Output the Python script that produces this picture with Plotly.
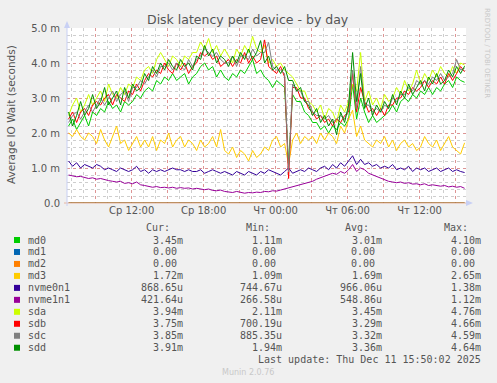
import numpy as np
import pandas as pd
import plotly.graph_objects as go

# ---------------- data (values in milliseconds) ----------------
times = pd.date_range("2025-12-10 06:45", periods=100, freq="20min")

md0 = [2.2, 2.4, 2.1, 2.3, 2.5, 2.2, 2.6, 2.5, 2.7, 2.6, 2.9, 2.7, 2.8, 2.6, 2.9, 2.8,
       2.9, 3.1, 3.0, 3.2, 3.3, 3.2, 3.5, 3.4, 3.6, 3.5, 3.7, 3.5, 3.6, 3.7, 3.4, 3.6,
       3.7, 3.9, 4.0, 3.8, 3.9, 3.6, 3.8, 3.6, 3.5, 3.7, 3.6, 3.8, 3.7, 3.9, 4.1, 3.7,
       3.8, 3.6, 3.5, 3.3, 3.5, 3.4, 3.3, 1.11, 3.1, 2.9, 2.9, 2.6, 2.5, 2.3, 2.3, 2.1,
       2.2, 2.0, 2.2, 2.1, 2.3, 2.2, 2.4, 3.4, 2.4, 3.0, 2.6, 2.3, 2.5, 2.3, 2.4, 2.5,
       2.6, 2.8, 2.6, 2.9, 3.0, 2.9, 3.1, 3.0, 3.2, 3.1, 3.3, 3.1, 3.3, 3.2, 3.4, 3.5,
       3.3, 3.6, 3.5, 3.45]
md1 = [0.0] * 100
md2 = [0.0] * 100
md3 = [2.0, 1.9, 2.1, 1.9, 1.8, 2.0, 1.9, 1.7, 2.1, 1.8, 1.6, 1.9, 2.2, 1.7, 1.8, 1.5,
       1.7, 1.9, 1.6, 1.8, 1.6, 1.9, 1.5, 1.8, 1.7, 2.0, 1.6, 1.8, 1.9, 1.6, 1.8, 1.7,
       1.5, 1.8, 1.6, 1.7, 1.9, 1.6, 2.1, 1.5, 1.4, 1.6, 1.3, 1.5, 1.4, 1.2, 1.5, 1.3,
       1.4, 1.6, 1.5, 1.8, 1.9, 1.6, 1.7, 1.1, 1.8, 2.0, 1.7, 1.9, 1.8, 1.9, 1.7, 2.0,
       1.8, 2.0, 1.9, 1.7, 2.2, 2.0, 2.4, 2.65, 1.9, 2.2, 1.8, 1.7, 1.6, 1.8, 1.7, 1.9,
       1.6, 1.8, 1.5, 1.7, 1.8, 1.6, 1.7, 1.5, 1.6, 1.9, 1.7, 1.6, 1.8, 1.5, 1.7, 1.9,
       1.6, 1.5, 1.4, 1.72]
nvme0n1 = [1.2, 1.05, 1.15, 1.0, 1.1, 1.05, 1.0, 1.1, 1.05, 0.95, 1.0, 0.95, 0.9, 1.0, 0.95, 0.9,
           0.95, 1.05, 0.9, 0.95, 0.85, 0.95, 0.9, 0.95, 0.9, 0.95, 1.0, 0.95, 0.95, 0.9, 0.95, 0.9,
           0.9, 0.95, 0.85, 0.9, 0.95, 0.9, 0.85, 0.9, 0.85, 0.8, 0.9, 0.85, 0.8, 0.9, 0.85, 0.8,
           0.9, 0.85, 0.95, 0.9, 0.85, 0.8, 0.9, 1.0, 0.85, 0.9, 0.95, 0.9, 1.0, 0.95, 0.9, 1.0,
           1.05, 0.95, 1.1, 1.0, 1.15, 1.05, 1.2, 1.35, 1.1, 1.25, 1.1, 1.15, 1.05, 1.1, 1.0, 1.05,
           1.0, 1.1, 0.95, 1.0, 0.95, 1.05, 0.9, 1.0, 0.95, 1.0, 0.9, 0.95, 1.0, 0.9, 0.95, 1.0,
           0.9, 0.95, 0.9, 0.87]
nvme1n1 = [0.8, 0.78, 0.75, 0.76, 0.72, 0.7, 0.72, 0.68, 0.7, 0.66, 0.64, 0.62, 0.6, 0.62, 0.56, 0.58,
           0.55, 0.6, 0.52, 0.5, 0.48, 0.45, 0.47, 0.44, 0.45, 0.43, 0.45, 0.42, 0.44, 0.42, 0.43, 0.4,
           0.42, 0.4, 0.38, 0.4, 0.36, 0.35, 0.37, 0.33, 0.32, 0.3, 0.33, 0.3, 0.28, 0.3, 0.29, 0.31,
           0.3, 0.33, 0.32, 0.35, 0.34, 0.37, 0.4, 0.45, 0.48, 0.5, 0.52, 0.56, 0.6, 0.62, 0.68, 0.72,
           0.78, 0.8, 0.85, 0.82, 0.9, 0.85, 0.95, 1.1, 0.9, 1.0, 0.95, 0.85, 0.8, 0.75, 0.7, 0.65,
           0.62, 0.6, 0.58, 0.6, 0.56, 0.58, 0.54, 0.55, 0.52, 0.55, 0.5, 0.52, 0.5, 0.48, 0.5, 0.46,
           0.48, 0.45, 0.47, 0.42]
sda = [2.5, 2.8, 3.0, 2.6, 2.8, 3.1, 2.8, 3.0, 3.2, 2.9, 3.4, 3.1, 3.0, 3.3, 3.1, 3.4,
       3.3, 3.6, 3.5, 3.8, 3.9, 3.7, 4.1, 4.3, 4.1, 3.9, 4.2, 4.1, 3.9, 4.2, 4.1, 4.3,
       4.3, 4.6, 4.4, 4.7, 4.3, 4.5, 4.2, 4.4, 4.2, 4.0, 4.4, 4.2, 4.5, 4.3, 4.76, 4.4,
       4.3, 4.5, 4.0, 4.1, 3.9, 4.0, 3.8, 3.7, 3.6, 3.4, 3.2, 3.2, 2.9, 2.8, 2.6, 2.8,
       2.4, 2.7, 2.6, 2.3, 2.8, 2.6, 2.9, 3.4, 3.2, 4.3, 2.9, 3.2, 2.8, 3.0, 2.7, 3.1,
       2.9, 3.0, 3.3, 3.1, 3.5, 3.2, 3.4, 3.8, 3.4, 3.7, 3.5, 3.8, 3.6, 3.9, 3.7, 3.6,
       3.9, 3.7, 4.0, 3.94]
sdb = [2.4, 2.6, 2.3, 2.6, 2.7, 2.5, 2.8, 2.9, 2.8, 3.0, 3.1, 2.8, 3.1, 3.0, 2.9, 3.2,
       3.1, 3.4, 3.2, 3.5, 3.7, 3.6, 3.8, 3.7, 4.0, 3.8, 3.7, 4.0, 3.8, 4.0, 3.7, 3.9,
       4.0, 4.3, 4.2, 4.3, 4.1, 4.2, 3.9, 4.0, 4.1, 3.9, 4.1, 4.0, 4.3, 4.0, 4.2, 4.0,
       4.1, 4.66, 3.9, 3.8, 3.7, 3.9, 3.6, 0.70, 3.3, 3.3, 3.0, 3.0, 2.7, 2.6, 2.4, 2.5,
       2.3, 2.4, 2.2, 2.4, 2.3, 2.5, 2.6, 3.7, 2.6, 3.3, 2.9, 2.6, 2.7, 2.5, 2.7, 2.5,
       2.8, 2.8, 3.0, 3.0, 3.2, 3.1, 3.3, 3.2, 3.3, 3.5, 3.3, 3.5, 3.4, 3.6, 3.4, 3.7,
       3.5, 3.7, 3.9, 3.75]
sdc = [2.3, 2.5, 2.6, 2.4, 2.6, 2.8, 2.6, 2.8, 3.0, 2.8, 3.0, 3.2, 2.9, 3.1, 3.2, 2.9,
       3.3, 3.3, 3.5, 3.4, 3.6, 3.8, 3.6, 3.9, 3.9, 4.0, 3.8, 4.0, 3.9, 3.8, 4.1, 3.9,
       4.1, 4.2, 4.4, 4.3, 4.2, 4.3, 4.1, 4.0, 4.0, 4.2, 3.9, 4.2, 4.2, 4.1, 4.4, 4.2,
       4.3, 4.3, 4.59, 3.9, 3.8, 3.8, 3.7, 0.89, 3.4, 3.2, 3.2, 2.9, 2.9, 2.6, 2.5, 2.5,
       2.4, 2.5, 2.3, 2.4, 2.5, 2.4, 2.7, 3.8, 2.7, 3.9, 2.8, 2.8, 2.6, 2.7, 2.6, 2.8,
       2.7, 3.0, 2.9, 3.1, 3.1, 3.3, 3.2, 3.5, 3.4, 3.5, 3.4, 3.6, 3.5, 3.7, 3.5, 3.6,
       3.7, 4.1, 3.8, 3.85]
sdd = [2.6, 2.2, 2.5, 2.9, 2.5, 2.7, 3.1, 2.7, 2.9, 3.3, 2.8, 3.0, 3.2, 2.8, 3.3, 3.0,
       3.4, 3.2, 3.3, 3.7, 3.5, 3.9, 3.7, 4.0, 3.8, 4.1, 3.9, 3.8, 4.1, 3.9, 4.0, 3.8,
       4.2, 4.1, 4.5, 4.2, 4.4, 4.0, 4.2, 4.1, 3.9, 4.2, 4.0, 4.3, 4.1, 4.4, 4.1, 4.3,
       4.64, 4.0, 4.2, 3.8, 3.9, 3.7, 3.9, 3.5, 3.5, 3.2, 3.3, 2.9, 2.8, 2.5, 2.7, 2.3,
       2.5, 2.2, 2.4, 1.95, 2.6, 2.3, 2.8, 4.3, 2.9, 3.7, 2.7, 3.0, 2.5, 2.8, 2.6, 2.9,
       2.7, 3.1, 2.8, 3.2, 3.0, 3.4, 3.1, 3.3, 3.5, 3.2, 3.6, 3.4, 3.7, 3.4, 3.5, 3.8,
       3.6, 3.9, 3.7, 3.91]

names = ["md0", "md1", "md2", "md3", "nvme0n1", "nvme1n1", "sda", "sdb", "sdc", "sdd"]
colors = ["#00CC00", "#0066B3", "#FF8000", "#FFCC00", "#330099", "#990099",
          "#CCFF00", "#FF0000", "#808080", "#008F00"]
cur_vals = ["3.45m", "0.00", "0.00", "1.72m", "868.65u", "421.64u", "3.94m", "3.75m", "3.85m", "3.91m"]
min_vals = ["1.11m", "0.00", "0.00", "1.09m", "744.67u", "266.58u", "2.11m", "700.19u", "885.35u", "1.94m"]
avg_vals = ["3.01m", "0.00", "0.00", "1.69m", "966.06u", "548.86u", "3.45m", "3.29m", "3.32m", "3.36m"]
max_vals = ["4.10m", "0.00", "0.00", "2.65m", "1.38m", "1.12m", "4.76m", "4.66m", "4.59m", "4.64m"]

x_tick_times = pd.date_range("2025-12-10 09:00", "2025-12-11 15:00", freq="3h")
x_tick_labels = ["", "Ср 12:00", "", "Ср 18:00", "", "Чт 00:00", "", "Чт 06:00", "", "Чт 12:00", ""]
y_tick_vals = [0, 1, 2, 3, 4, 5]
y_tick_labels = ["0.0", "1.0 m", "2.0 m", "3.0 m", "4.0 m", "5.0 m"]

# ---------------- layout geometry ----------------
W, H = 497, 383
L, R, T, B = 67, 466, 28, 203


def px(x):
    return (x - L) / (R - L)


def py(y):
    return (B - y) / (B - T)


series = [md0, md1, md2, md3, nvme0n1, nvme1n1, sda, sdb, sdc, sdd]

fig = go.Figure()
for name, col, vals in zip(names, colors, series):
    fig.add_trace(go.Scatter(x=times, y=vals, mode="lines", name=name,
                             line=dict(color=col, width=1), showlegend=False,
                             hoverinfo="skip"))

MONO = "DejaVu Sans Mono"
SANS = "DejaVu Sans"
TXT = "#555555"

annotations = []
shapes = []

# title
annotations.append(dict(x=px(248), y=py(19), xref="paper", yref="paper", text="Disk latency per device - by day",
                        showarrow=False, font=dict(family=SANS, size=12.5, color="#555555"),
                        xanchor="center", yanchor="middle"))
# y title
annotations.append(dict(x=px(11), y=py(115), xref="paper", yref="paper", text="Average IO Wait (seconds)",
                        showarrow=False, textangle=-90, font=dict(family=SANS, size=10.5, color=TXT),
                        xanchor="center", yanchor="middle"))
# rrdtool watermark
annotations.append(dict(x=px(487), y=py(6), xref="paper", yref="paper", text="RRDTOOL / TOBI OETIKER",
                        showarrow=False, textangle=90, font=dict(family=SANS, size=7, color="#C8C8C8"),
                        xanchor="center", yanchor="top"))

# legend header
for txt, xr in [("Cur:", 172), ("Min:", 272), ("Avg:", 371), ("Max:", 470)]:
    annotations.append(dict(x=px(xr), y=py(227.5), xref="paper", yref="paper", text=txt, showarrow=False,
                            font=dict(family=MONO, size=10, color=TXT), xanchor="right", yanchor="middle"))

row_y0, row_dy = 240.0, 11.97
for i, name in enumerate(names):
    ry = row_y0 + i * row_dy
    shapes.append(dict(type="rect", xref="paper", yref="paper",
                       x0=px(14), x1=px(20), y0=py(ry - 3), y1=py(ry + 3),
                       fillcolor=colors[i], line=dict(width=0)))
    annotations.append(dict(x=px(26), y=py(ry), xref="paper", yref="paper", text=name, showarrow=False,
                            font=dict(family=MONO, size=10, color=TXT), xanchor="left", yanchor="middle"))
    for vals, xr in [(cur_vals, 185), (min_vals, 284.3), (avg_vals, 383.5), (max_vals, 482.8)]:
        v = vals[i]
        xx = xr if v[-1].isalpha() else xr - 6.02
        annotations.append(dict(x=px(xx), y=py(ry), xref="paper", yref="paper", text=v, showarrow=False,
                                font=dict(family=MONO, size=10, color=TXT), xanchor="right", yanchor="middle"))

annotations.append(dict(x=px(482.8), y=py(359.5), xref="paper", yref="paper",
                        text="Last update: Thu Dec 11 15:50:02 2025", showarrow=False,
                        font=dict(family=MONO, size=10, color=TXT), xanchor="right", yanchor="middle"))
annotations.append(dict(x=px(248), y=py(372), xref="paper", yref="paper", text="Munin 2.0.76", showarrow=False,
                        font=dict(family=SANS, size=8, color="#C8C8C8"), xanchor="center", yanchor="middle"))

# axis arrows
AX = "#C8D0F4"
shapes.append(dict(type="path", xref="paper", yref="paper",
                   path=f"M {px(64)} {py(28)} L {px(70)} {py(28)} L {px(67)} {py(21)} Z",
                   fillcolor=AX, line=dict(width=0)))
shapes.append(dict(type="path", xref="paper", yref="paper",
                   path=f"M {px(466)} {py(200)} L {px(466)} {py(206)} L {px(473)} {py(203)} Z",
                   fillcolor=AX, line=dict(width=0)))
shapes.append(dict(type="line", xref="paper", yref="paper", x0=px(67), x1=px(67), y0=py(206), y1=py(28),
                   line=dict(color=AX, width=1)))
shapes.append(dict(type="line", xref="paper", yref="paper", x0=px(64), x1=px(466), y0=py(203), y1=py(203),
                   line=dict(color="#E8B4A0", width=1), layer="below"))

MAJ = "rgba(225,130,130,0.75)"
MIN = "rgba(190,190,190,0.75)"

fig.update_layout(
    width=W, height=H,
    margin=dict(l=L, r=W - R, t=T, b=H - B, pad=0),
    paper_bgcolor="#F0F0F0", plot_bgcolor="#FFFFFF",
    showlegend=False,
    annotations=annotations, shapes=shapes,
    xaxis=dict(type="date", range=["2025-12-10 06:37", "2025-12-11 15:52"],
               tickmode="array", tickvals=x_tick_times, ticktext=x_tick_labels,
               showgrid=True, gridcolor=MAJ, griddash="dot", gridwidth=1,
               minor=dict(showgrid=True, gridcolor=MIN, griddash="dot", gridwidth=1,
                          tickmode="array",
                          tickvals=pd.date_range("2025-12-10 07:00", "2025-12-11 15:00", freq="1h")),
               ticks="", ticklen=0, zeroline=False, showline=False,
               tickfont=dict(family=SANS, size=10, color=TXT), fixedrange=True),
    yaxis=dict(range=[0, 5.0], tickmode="array", tickvals=y_tick_vals, ticktext=y_tick_labels,
               showgrid=True, gridcolor=MAJ, griddash="dot", gridwidth=1,
               minor=dict(showgrid=True, gridcolor=MIN, griddash="dot", gridwidth=1, dtick=0.2, tick0=0),
               ticks="outside", ticklen=4, tickcolor="rgba(0,0,0,0)", zeroline=False, showline=False,
               tickfont=dict(family=SANS, size=10, color=TXT), fixedrange=True),
)

fig.write_html("out.html", config={"displayModeBar": False},
               post_script="document.body.style.margin='0';document.body.style.background='#F0F0F0';")
